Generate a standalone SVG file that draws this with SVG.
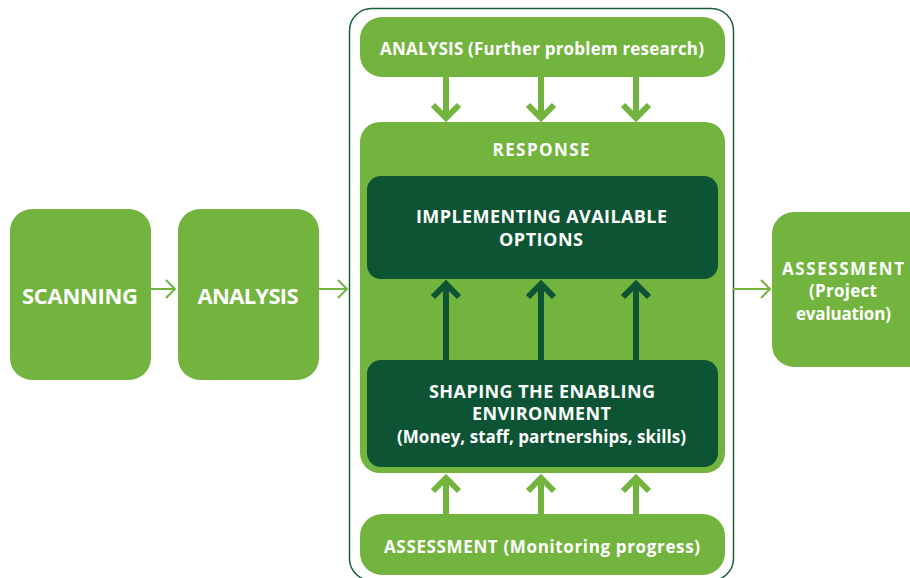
<svg xmlns="http://www.w3.org/2000/svg" width="910" height="578" viewBox="0 0 910 578">
<defs>
<style>
.lg{fill:#73b43f}
.dg{fill:#0c5433}
.t{fill:#fff;font-family:"Open Sans","Liberation Sans",sans-serif;font-weight:bold;text-anchor:middle;font-size:17px}
.u{font-size:18px}
.big{font-size:22px}
.c1{stroke:#73b43f;stroke-width:2;fill:none}
.c2{stroke:#73b43f;stroke-width:6;fill:none}
.c3{stroke:#0c5433;stroke-width:6;fill:none}
</style>
</defs>
<rect x="349.5" y="8.5" width="384" height="572" rx="22" fill="none" stroke="#1b5e3b" stroke-width="1.5"/>
<g id="scanning"><rect class="lg" x="10" y="209" width="141" height="171" rx="22"/><text class="t big" x="80" y="304" textLength="116" lengthAdjust="spacing">SCANNING</text></g>
<g id="analysis"><rect class="lg" x="178" y="209" width="141" height="171" rx="22"/><text class="t big" x="248" y="304" textLength="101" lengthAdjust="spacing">ANALYSIS</text></g>
<g id="analysis-further"><rect class="lg" x="360" y="17" width="365" height="60" rx="22"/><text class="t" x="542" y="55" textLength="324" lengthAdjust="spacing">ANALYSIS (Further problem research)</text></g>
<g id="response"><rect class="lg" x="360" y="122" width="365" height="351" rx="20"/><text class="t" x="541" y="156" font-size="17" textLength="97" lengthAdjust="spacing">RESPONSE</text></g>
<g id="implementing"><rect class="dg" x="367" y="176" width="351" height="103" rx="14"/><text class="t u" x="541.5" y="223" textLength="251" lengthAdjust="spacing">IMPLEMENTING AVAILABLE</text><text class="t u" x="541" y="246" textLength="84" lengthAdjust="spacing">OPTIONS</text></g>
<g id="shaping"><rect class="dg" x="367" y="360" width="351" height="107" rx="14"/><text class="t u" x="542" y="398" textLength="226" lengthAdjust="spacing">SHAPING THE ENABLING</text><text class="t u" x="541.5" y="420" textLength="139" lengthAdjust="spacing">ENVIRONMENT</text><text class="t" x="541.5" y="443" textLength="289" lengthAdjust="spacing">(Money, staff, partnerships, skills)</text></g>
<g id="assessment-monitoring"><rect class="lg" x="360" y="514" width="365" height="61" rx="22"/><text class="t" x="542" y="553" textLength="316" lengthAdjust="spacing">ASSESSMENT (Monitoring progress)</text></g>
<g id="assessment-project"><rect class="lg" x="772" y="212" width="160" height="155" rx="22"/><text class="t" x="843" y="275" textLength="122" lengthAdjust="spacing">ASSESSMENT</text><text class="t" x="843" y="297" textLength="68" lengthAdjust="spacing">(Project</text><text class="t" x="843.5" y="320" textLength="95" lengthAdjust="spacing">evaluation)</text></g>
<g id="connectors">
<path class="c1" d="M151 289H175M166 280L175 289L166 298"/>
<path class="c1" d="M319 289H347M338 280L347 289L338 298"/>
<path class="c1" d="M733 289H770M761 280L770 289L761 298"/>
<path class="c2" d="M446 77V118M433 105L446 118L459 105"/>
<path class="c2" d="M541 77V118M528 105L541 118L554 105"/>
<path class="c2" d="M636 77V118M623 105L636 118L649 105"/>
<path class="c3" d="M446 360V284M433 297L446 284L459 297"/>
<path class="c3" d="M541 360V284M528 297L541 284L554 297"/>
<path class="c3" d="M636 360V284M623 297L636 284L649 297"/>
<path class="c2" d="M446 514V478M433 491L446 478L459 491"/>
<path class="c2" d="M541 514V478M528 491L541 478L554 491"/>
<path class="c2" d="M636 514V478M623 491L636 478L649 491"/>
</g>
</svg>
